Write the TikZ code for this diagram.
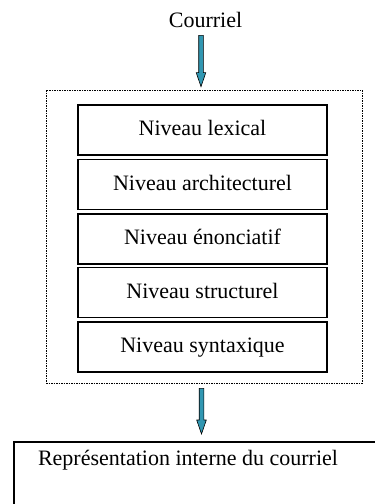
\documentclass[tikz,border=0pt]{standalone}
\usepackage{fontspec}
\setmainfont{Liberation Serif}
\usetikzlibrary{calc}
\definecolor{arrteal}{RGB}{49,151,178}
\newcommand\fatarrow[3]{\draw[fatarr] let \p1=(#1), \p2=(#2) in
  (#3-2.3pt,\y1) -- (#3-2.3pt,\y2+14pt) -- (#3-4.8pt,\y2+14pt) -- (#3,\y2)
  -- (#3+4.8pt,\y2+14pt) -- (#3+2.3pt,\y2+14pt) -- (#3+2.3pt,\y1) -- cycle;}
\begin{document}
\begin{tikzpicture}[x=1pt,y=1pt,
  txt/.style={inner sep=0pt, font=\fontsize{22}{26}\selectfont},
  level/.style={draw, line width=1.4pt, minimum width=249pt, minimum height=50pt,
    inner sep=0pt, text height=15.4pt, text depth=4.4pt, font=\fontsize{22}{26}\selectfont},
  dotbox/.style={draw, line width=0.8pt, dash pattern=on 1.5pt off 1pt,
    minimum width=316pt, minimum height=293pt, inner sep=0pt},
  bigbox/.style={draw, line width=1.5pt, minimum width=420pt, minimum height=120pt, inner sep=0pt},
  fatarr/.style={fill=arrteal, draw=black, line width=0.6pt, line join=miter}]
\useasboundingbox (0,0) rectangle (375,-504);
\clip (0,0) rectangle (375,-504);
\fill[white] (0,0) rectangle (375,-504);

\node[txt, anchor=base] (courriel) at (205.5,-27) {Courriel};

\node[dotbox] (layers) at (204,-236.5) {};

\node[level] (lex) at (202.5,-130) {Niveau lexical};
\node[level] (arch) at (202.5,-184.5) {Niveau architecturel};
\node[level] (enon) at (202.5,-239) {Niveau énonciatif};
\node[level] (struct) at (202.5,-292.5) {Niveau structurel};
\node[level] (synt) at (202.5,-347) {Niveau syntaxique};

\node[bigbox, anchor=north west] (rep) at (13,-441) {};
\node[txt, anchor=base] (reptext) at (188,-465) {Représentation interne du courriel};

\fatarrow{$(courriel.south)+(0,-8)$}{$(layers.north)+(0,3)$}{201pt}
\fatarrow{$(layers.south)+(0,-5)$}{$(rep.north)+(0,7)$}{201.5pt}
\end{tikzpicture}
\end{document}
